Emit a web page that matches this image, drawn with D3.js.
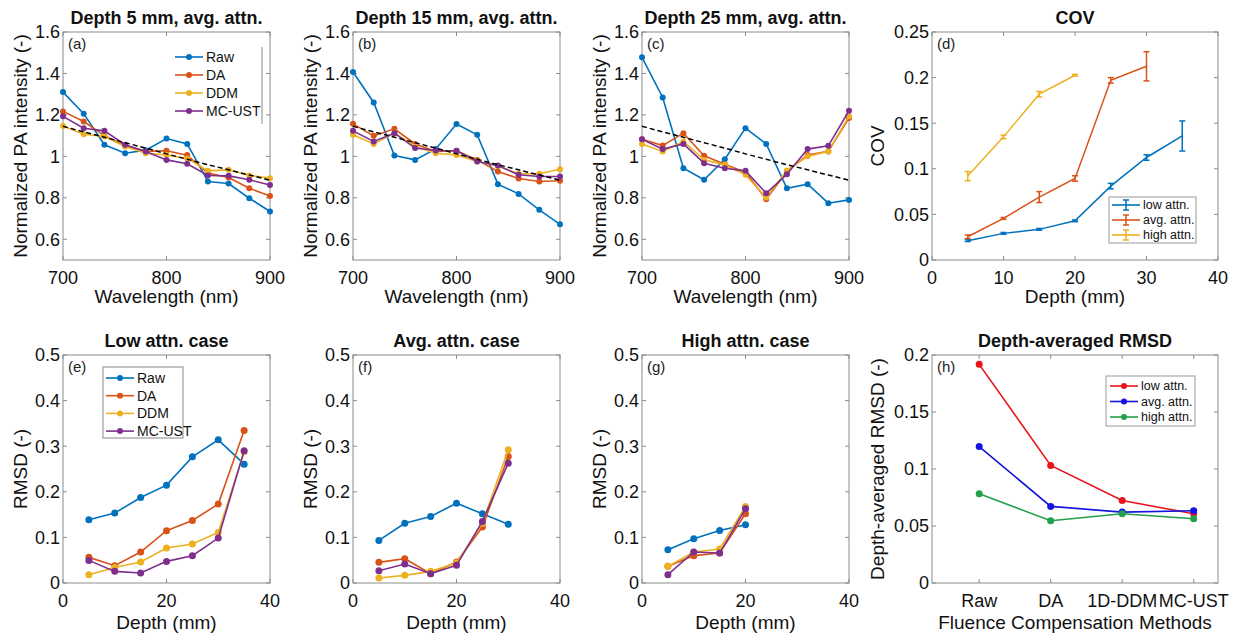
<!DOCTYPE html>
<html>
<head>
<meta charset="utf-8">
<script src="https://cdn.jsdelivr.net/npm/d3@7"></script>
<style>
  body { margin: 0; background: #fff; }
  svg { font-family: Arial, "Liberation Sans", Helvetica, sans-serif; }
</style>
</head>
<body>
<svg id="fig" width="1234" height="638"></svg>
<script>
// ---------------- data ----------------
const wavelengths = [700, 720, 740, 760, 780, 800, 820, 840, 860, 880, 900];
const methods = ["Raw", "DA", "DDM", "MC-UST"];
const methodColors = ["#0072BD", "#D95319", "#EDB120", "#7E2F8E"];

// reference (dashed) spectrum
const refSpectrum = [1.145, 1.118, 1.092, 1.066, 1.040, 1.012, 0.986, 0.960, 0.935, 0.910, 0.885];

// (a) depth 5 mm
const d5Raw  = [1.31, 1.206, 1.056, 1.015, 1.03, 1.086, 1.06, 0.879, 0.869, 0.798, 0.734];
const d5DA   = [1.217, 1.168, 1.10, 1.052, 1.024, 1.027, 1.006, 0.919, 0.898, 0.846, 0.809];
const d5DDM  = [1.147, 1.107, 1.096, 1.048, 1.015, 1.007, 0.99, 0.93, 0.935, 0.908, 0.895];
const d5MC   = [1.193, 1.136, 1.123, 1.056, 1.024, 0.983, 0.964, 0.908, 0.906, 0.887, 0.862];

// (b) depth 15 mm
const d15Raw = [1.407, 1.26, 1.004, 0.983, 1.036, 1.156, 1.104, 0.866, 0.819, 0.742, 0.672];
const d15DA  = [1.157, 1.099, 1.133, 1.06, 1.024, 1.027, 0.983, 0.927, 0.893, 0.879, 0.882];
const d15DDM = [1.104, 1.06, 1.112, 1.048, 1.015, 1.007, 0.975, 0.954, 0.916, 0.916, 0.938];
const d15MC  = [1.123, 1.072, 1.112, 1.04, 1.028, 1.027, 0.975, 0.956, 0.911, 0.903, 0.903];

// (c) depth 25 mm
const d25Raw = [1.478, 1.284, 0.943, 0.887, 0.986, 1.136, 1.06, 0.846, 0.866, 0.774, 0.79];
const d25DA  = [1.083, 1.052, 1.112, 1.003, 0.962, 0.922, 0.793, 0.927, 1.007, 1.024, 1.185];
const d25DDM = [1.06, 1.024, 1.072, 0.983, 0.959, 0.911, 0.801, 0.932, 1.0, 1.024, 1.193];
const d25MC  = [1.083, 1.035, 1.06, 0.967, 0.943, 0.93, 0.822, 0.914, 1.035, 1.051, 1.22];

// (d) COV vs depth, mean and error
const covCases = ["low attn.", "avg. attn.", "high attn."];
const covColors = ["#0072BD", "#D95319", "#EDB120"];
const covLowDepth  = [5, 10, 15, 20, 25, 30, 35];
const covLow       = [0.0212, 0.0292, 0.0336, 0.043, 0.081, 0.1124, 0.136];
const covLowErr    = [0.001, 0.001, 0.001, 0.001, 0.003, 0.003, 0.0165];
const covAvgDepth  = [5, 10, 15, 20, 25, 30];
const covAvg       = [0.0255, 0.0456, 0.069, 0.0894, 0.197, 0.2124];
const covAvgErr    = [0.002, 0.001, 0.006, 0.003, 0.003, 0.016];
const covHighDepth = [5, 10, 15, 20];
const covHigh      = [0.092, 0.135, 0.1818, 0.2026];
const covHighErr   = [0.005, 0.002, 0.003, 0.001];

// (e) low attn RMSD
const lowDepth = [5, 10, 15, 20, 25, 30, 35];
const lowRaw = [0.1387, 0.1533, 0.1876, 0.2146, 0.2766, 0.3139, 0.2606];
const lowDA  = [0.0562, 0.038, 0.0679, 0.1146, 0.1372, 0.173, 0.3343];
const lowDDM = [0.018, 0.034, 0.046, 0.0766, 0.0854, 0.111, 0.288];
const lowMC  = [0.0496, 0.0255, 0.0219, 0.0474, 0.0599, 0.0985, 0.2898];

// (f) avg attn RMSD
const avgDepth = [5, 10, 15, 20, 25, 30];
const avgRaw = [0.0934, 0.131, 0.146, 0.175, 0.1518, 0.129];
const avgDA  = [0.0453, 0.0533, 0.0204, 0.046, 0.1226, 0.2774];
const avgDDM = [0.011, 0.0168, 0.0255, 0.0438, 0.131, 0.292];
const avgMC  = [0.027, 0.0416, 0.0204, 0.0387, 0.135, 0.2628];

// (g) high attn RMSD
const highDepth = [5, 10, 15, 20];
const highRaw = [0.073, 0.097, 0.1153, 0.1277];
const highDA  = [0.0365, 0.0600, 0.0657, 0.1518];
const highDDM = [0.0365, 0.0680, 0.0745, 0.1679];
const highMC  = [0.0182, 0.0680, 0.0657, 0.1628];

// (h) depth-averaged RMSD
const compMethods = ["Raw", "DA", "1D-DDM", "MC-UST"];
const avgCases = ["low attn.", "avg. attn.", "high attn."];
const avgCaseColors = ["#e8141c", "#1414e0", "#22a04a"];
const meanLow  = [0.1918, 0.1031, 0.0724, 0.0607];
const meanAvg  = [0.1197, 0.0672, 0.0622, 0.0634];
const meanHigh = [0.0782, 0.0546, 0.0607, 0.0564];

// ---------------- drawing ----------------
const svg = d3.select("#fig");
const axisColor = "#8c8c8c";
const textColor = "#111";
const tickLen = 4;
const fmt = d3.format("~g");

// draws the frame, ticks and labels of one panel, returns the scales
function drawPanel(p) {
    const g = svg.append("g");
    const x = d3.scaleLinear().domain(p.xDomain).range([p.left, p.right]);
    const y = d3.scaleLinear().domain(p.yDomain).range([p.bottom, p.top]);

    g.append("rect")
        .attr("x", p.left).attr("y", p.top)
        .attr("width", p.right - p.left).attr("height", p.bottom - p.top)
        .attr("fill", "none").attr("stroke", axisColor).attr("stroke-width", 1);

    // x ticks (inward, both sides)
    p.xTicks.forEach((t, i) => {
        const xx = x(t);
        g.append("line").attr("x1", xx).attr("x2", xx)
            .attr("y1", p.bottom).attr("y2", p.bottom - tickLen)
            .attr("stroke", axisColor);
        g.append("line").attr("x1", xx).attr("x2", xx)
            .attr("y1", p.top).attr("y2", p.top + tickLen)
            .attr("stroke", axisColor);
        g.append("text").attr("x", xx).attr("y", p.bottom + 24)
            .attr("text-anchor", "middle").attr("font-size", 18).attr("fill", textColor)
            .text(p.xTickLabels ? p.xTickLabels[i] : fmt(t));
    });
    // y ticks
    p.yTicks.forEach(t => {
        const yy = y(t);
        g.append("line").attr("x1", p.left).attr("x2", p.left + tickLen)
            .attr("y1", yy).attr("y2", yy).attr("stroke", axisColor);
        g.append("line").attr("x1", p.right).attr("x2", p.right - tickLen)
            .attr("y1", yy).attr("y2", yy).attr("stroke", axisColor);
        g.append("text").attr("x", p.left - 3).attr("y", yy).attr("dy", "0.35em")
            .attr("text-anchor", "end").attr("font-size", 18).attr("fill", textColor)
            .text(fmt(t));
    });

    // title
    g.append("text").attr("x", (p.left + p.right) / 2).attr("y", p.top - 8)
        .attr("text-anchor", "middle").attr("font-size", 18).attr("font-weight", "bold")
        .attr("fill", textColor).text(p.title);
    // x label
    g.append("text").attr("x", (p.left + p.right) / 2).attr("y", p.bottom + p.xLabelDy)
        .attr("text-anchor", "middle").attr("font-size", 19).attr("fill", textColor)
        .text(p.xLabel);
    // y label
    const cy = (p.top + p.bottom) / 2, cx = p.left - p.yLabelDx;
    g.append("text").attr("transform", `translate(${cx},${cy}) rotate(-90)`)
        .attr("text-anchor", "middle").attr("dy", "0.35em")
        .attr("font-size", 19).attr("fill", textColor).text(p.yLabel);
    // panel letter
    g.append("text").attr("x", p.left + 5).attr("y", p.top + 17)
        .attr("font-size", 15).attr("fill", "#222").text(p.letter);

    return { g, x, y };
}

function drawSeries(panel, xs, ys, color, r) {
    const pts = xs.map((v, i) => [v, ys[i]]);
    const line = d3.line().x(d => panel.x(d[0])).y(d => panel.y(d[1]));
    panel.g.append("path").datum(pts).attr("d", line)
        .attr("fill", "none").attr("stroke", color).attr("stroke-width", 1.6);
    panel.g.selectAll(null).data(pts).enter().append("circle")
        .attr("cx", d => panel.x(d[0])).attr("cy", d => panel.y(d[1]))
        .attr("r", r).attr("fill", color);
}

function drawErrorSeries(panel, xs, ys, es, color) {
    const pts = xs.map((v, i) => [v, ys[i], es[i]]);
    const line = d3.line().x(d => panel.x(d[0])).y(d => panel.y(d[1]));
    panel.g.append("path").datum(pts).attr("d", line)
        .attr("fill", "none").attr("stroke", color).attr("stroke-width", 1.5);
    pts.forEach(d => {
        const xx = panel.x(d[0]), ya = panel.y(d[1] - d[2]), yb = panel.y(d[1] + d[2]);
        panel.g.append("line").attr("x1", xx).attr("x2", xx).attr("y1", ya).attr("y2", yb)
            .attr("stroke", color).attr("stroke-width", 1.5);
        [ya, yb].forEach(yy => panel.g.append("line")
            .attr("x1", xx - 3).attr("x2", xx + 3).attr("y1", yy).attr("y2", yy)
            .attr("stroke", color).attr("stroke-width", 1.5));
    });
}

function drawLegend(g, names, colors, lx, ly, dy, fontSize, kind) {
    names.forEach((n, i) => {
        const yy = ly + i * dy;
        g.append("line").attr("x1", lx).attr("x2", lx + 28).attr("y1", yy).attr("y2", yy)
            .attr("stroke", colors[i]).attr("stroke-width", 1.6);
        if (kind === "err") {
            g.append("line").attr("x1", lx + 14).attr("x2", lx + 14)
                .attr("y1", yy - 5).attr("y2", yy + 5).attr("stroke", colors[i]).attr("stroke-width", 1.5);
            [yy - 5, yy + 5].forEach(v => g.append("line").attr("x1", lx + 11).attr("x2", lx + 17)
                .attr("y1", v).attr("y2", v).attr("stroke", colors[i]).attr("stroke-width", 1.5));
        } else {
            g.append("circle").attr("cx", lx + 14).attr("cy", yy).attr("r", 3).attr("fill", colors[i]);
        }
        g.append("text").attr("x", lx + 31).attr("y", yy).attr("dy", "0.35em")
            .attr("font-size", fontSize).attr("fill", textColor).text(n);
    });
}

const cols = [[63, 270], [353, 560], [642, 849], [932, 1218]];
const topRow = [32, 260], botRow = [355, 583];

// ---- top row spectra ----
const spectra = [
    { title: "Depth 5 mm, avg. attn.", letter: "(a)", data: [d5Raw, d5DA, d5DDM, d5MC] },
    { title: "Depth 15 mm, avg. attn.", letter: "(b)", data: [d15Raw, d15DA, d15DDM, d15MC] },
    { title: "Depth 25 mm, avg. attn.", letter: "(c)", data: [d25Raw, d25DA, d25DDM, d25MC] }
];
spectra.forEach((s, k) => {
    const panel = drawPanel({
        left: cols[k][0], right: cols[k][1], top: topRow[0], bottom: topRow[1],
        xDomain: [700, 900], yDomain: [0.5, 1.6],
        xTicks: [700, 800, 900], yTicks: [0.6, 0.8, 1, 1.2, 1.4, 1.6],
        title: s.title, xLabel: "Wavelength (nm)", xLabelDy: 43,
        yLabel: "Normalized PA intensity (-)", yLabelDx: 43, letter: s.letter
    });
    s.data.forEach((ys, i) => drawSeries(panel, wavelengths, ys, methodColors[i], 3));
    const line = d3.line().x((d, i) => panel.x(wavelengths[i])).y(d => panel.y(d));
    panel.g.append("path").datum(refSpectrum).attr("d", line)
        .attr("fill", "none").attr("stroke", "#000").attr("stroke-width", 1.5)
        .attr("stroke-dasharray", "5,3");
    if (k === 0) {
        panel.g.append("line").attr("x1", 262).attr("x2", 262).attr("y1", 47).attr("y2", 124)
            .attr("stroke", "#888").attr("stroke-width", 1);
        drawLegend(panel.g, methods, methodColors, 175, 57, 18, 14, "dot");
    }
});

// ---- (d) COV ----
const covPanel = drawPanel({
    left: cols[3][0], right: cols[3][1], top: topRow[0], bottom: topRow[1],
    xDomain: [0, 40], yDomain: [0, 0.25],
    xTicks: [0, 10, 20, 30, 40], yTicks: [0, 0.05, 0.1, 0.15, 0.2, 0.25],
    title: "COV", xLabel: "Depth (mm)", xLabelDy: 43,
    yLabel: "COV", yLabelDx: 55, letter: "(d)"
});
drawErrorSeries(covPanel, covLowDepth, covLow, covLowErr, covColors[0]);
drawErrorSeries(covPanel, covAvgDepth, covAvg, covAvgErr, covColors[1]);
drawErrorSeries(covPanel, covHighDepth, covHigh, covHighErr, covColors[2]);
covPanel.g.append("rect").attr("x", 1109).attr("y", 197).attr("width", 87).attr("height", 46)
    .attr("fill", "#fff").attr("stroke", "#999");
drawLegend(covPanel.g, covCases, covColors, 1112, 205, 15, 12.5, "err");

// ---- bottom row RMSD ----
const rmsdPanels = [
    { title: "Low attn. case", letter: "(e)", xs: lowDepth, data: [lowRaw, lowDA, lowDDM, lowMC] },
    { title: "Avg. attn. case", letter: "(f)", xs: avgDepth, data: [avgRaw, avgDA, avgDDM, avgMC] },
    { title: "High attn. case", letter: "(g)", xs: highDepth, data: [highRaw, highDA, highDDM, highMC] }
];
rmsdPanels.forEach((s, k) => {
    const panel = drawPanel({
        left: cols[k][0], right: cols[k][1], top: botRow[0], bottom: botRow[1],
        xDomain: [0, 40], yDomain: [0, 0.5],
        xTicks: [0, 20, 40], yTicks: [0, 0.1, 0.2, 0.3, 0.4, 0.5],
        title: s.title, xLabel: "Depth (mm)", xLabelDy: 46,
        yLabel: "RMSD (-)", yLabelDx: 43, letter: s.letter
    });
    s.data.forEach((ys, i) => drawSeries(panel, s.xs, ys, methodColors[i], 3.5));
    if (k === 0) {
        panel.g.append("rect").attr("x", 103).attr("y", 367).attr("width", 80).attr("height", 71)
            .attr("fill", "#fff").attr("stroke", "#888");
        drawLegend(panel.g, methods, methodColors, 106, 378, 17.7, 14, "dot");
    }
});

// ---- (h) depth-averaged RMSD ----
const hPanel = drawPanel({
    left: cols[3][0], right: cols[3][1], top: botRow[0], bottom: botRow[1],
    xDomain: [0.34, 4.34], yDomain: [0, 0.2],
    xTicks: [1, 2, 3, 4], xTickLabels: compMethods, yTicks: [0, 0.05, 0.1, 0.15, 0.2],
    title: "Depth-averaged RMSD", xLabel: "Fluence Compensation Methods", xLabelDy: 46,
    yLabel: "Depth-averaged RMSD (-)", yLabelDx: 55, letter: "(h)"
});
const catIdx = [1, 2, 3, 4];
[meanLow, meanAvg, meanHigh].forEach((ys, i) => drawSeries(hPanel, catIdx, ys, avgCaseColors[i], 3.5));
hPanel.g.append("rect").attr("x", 1106).attr("y", 376).attr("width", 89).attr("height", 50)
    .attr("fill", "#fff").attr("stroke", "#999");
drawLegend(hPanel.g, avgCases, avgCaseColors, 1110, 386, 15.5, 12.5, "dot");
</script>
</body>
</html>
